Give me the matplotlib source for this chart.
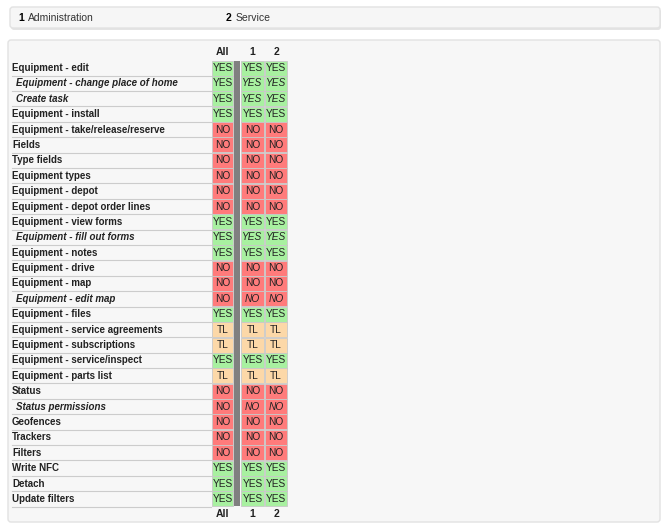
import matplotlib.pyplot as plt
from matplotlib.patches import Rectangle, FancyBboxPatch

plt.rcParams["font.family"] = ["Liberation Sans", "DejaVu Sans"]

rows = ["Equipment - edit", "Equipment - change place of home", "Create task",
        "Equipment - install", "Equipment - take/release/reserve", "Fields",
        "Type fields", "Equipment types", "Equipment - depot",
        "Equipment - depot order lines", "Equipment - view forms",
        "Equipment - fill out forms", "Equipment - notes", "Equipment - drive",
        "Equipment - map", "Equipment - edit map", "Equipment - files",
        "Equipment - service agreements", "Equipment - subscriptions",
        "Equipment - service/inspect", "Equipment - parts list", "Status",
        "Status permissions", "Geofences", "Trackers", "Filters", "Write NFC",
        "Detach", "Update filters"]
italic_rows = {"Equipment - change place of home", "Create task",
               "Equipment - fill out forms", "Equipment - edit map",
               "Status permissions"}
values = ["YES", "YES", "YES", "YES", "NO", "NO", "NO", "NO", "NO", "NO",
          "YES", "YES", "YES", "NO", "NO", "NO", "YES", "TL", "TL", "YES",
          "TL", "NO", "NO", "NO", "NO", "NO", "YES", "YES", "YES"]
col_labels = ["All", "1", "2"]
roles = ["Administration", "Service"]

colors = {"YES": "#a8f0a0", "NO": "#ff7b7b", "TL": "#fcd8a8"}

fig = plt.figure(figsize=(6.7, 5.31), dpi=100)
ax = fig.add_axes([0, 0, 1, 1])
ax.set_xlim(0, 670)
ax.set_ylim(531, 0)
ax.axis("off")

# top legend panel (with soft shadow)
ax.add_patch(FancyBboxPatch((11, 9), 650, 21, boxstyle="round,pad=0,rounding_size=3",
                            fc="#e4e4e4", ec="none"))
ax.add_patch(FancyBboxPatch((10, 7), 650, 21, boxstyle="round,pad=0,rounding_size=3",
                            fc="#f6f6f6", ec="#e2e2e2", lw=1))
ax.text(18, 18, "1", fontsize=7.5, fontweight="bold", va="center")
ax.text(28, 18, roles[0], fontsize=7.5, va="center", color="#333333")
ax.text(226, 18, "2", fontsize=7.5, fontweight="bold", va="center")
ax.text(236, 18, roles[1], fontsize=7.5, va="center", color="#333333")

# table panel
ax.add_patch(FancyBboxPatch((8, 40), 652, 482, boxstyle="round,pad=0,rounding_size=3",
                            fc="#f7f7f7", ec="#e2e2e2", lw=1))

y0, pitch, h = 68, 15.39, 15.0
cols = [(212, 233), (241, 264), (265, 287)]
ax.add_patch(Rectangle((234, y0 - h / 2), 6, pitch * (len(rows) - 1) + h, fc="#808080", ec="none"))

for i, (name, val) in enumerate(zip(rows, values)):
    y = y0 + i * pitch
    ital = name in italic_rows
    ax.text(16 if ital else 12, y, name, fontsize=7, fontweight="bold",
            style="italic" if ital else "normal", va="center", color="#222222")
    ax.plot([12, 211], [y + pitch / 2, y + pitch / 2], color="#cccccc", lw=0.8)
    for j, (x0, x1) in enumerate(cols):
        ax.add_patch(Rectangle((x0, y - h / 2), x1 - x0, h, fc=colors[val],
                               ec="#c8c8c8", lw=0.6))
        ax.text((x0 + x1) / 2, y, val, fontsize=7.3, ha="center", va="center",
                style="italic" if (ital and j > 0) else "normal", color="#222222")

for j, (x0, x1) in enumerate(cols):
    for yy in (52, 514):
        ax.text((x0 + x1) / 2, yy, col_labels[j], fontsize=7.5, fontweight="bold",
                ha="center", va="center", color="#222222")

fig.savefig("out.png", dpi=100)
